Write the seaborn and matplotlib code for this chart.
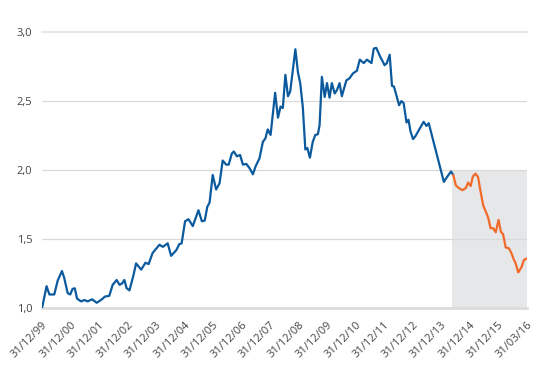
import matplotlib
matplotlib.use("Agg")
import matplotlib.pyplot as plt
import seaborn as sns
import pandas as pd

# x position in tick units (0 = 31/12/99, one unit per label)
hist_x = [0.00, 0.16, 0.26, 0.43, 0.55, 0.70, 0.78, 0.90, 0.99, 1.07, 1.15, 1.23,
          1.37, 1.49, 1.60, 1.76, 1.92, 2.07, 2.21, 2.36, 2.48, 2.62, 2.72, 2.81,
          2.89, 2.97, 3.07, 3.21, 3.30, 3.48, 3.63, 3.74, 3.88, 4.12, 4.24, 4.41,
          4.53, 4.71, 4.82, 4.90, 5.02, 5.14, 5.29, 5.49, 5.61, 5.71, 5.80, 5.88,
          5.99, 6.11, 6.23, 6.34, 6.46, 6.55, 6.66, 6.73, 6.84, 6.95, 7.05, 7.17,
          7.28, 7.40, 7.50, 7.63, 7.75, 7.84, 7.92, 8.02, 8.18, 8.28, 8.37, 8.45,
          8.54, 8.63, 8.71, 8.89, 8.98, 9.06, 9.15, 9.24, 9.31, 9.40, 9.50, 9.59,
          9.68, 9.74, 9.82, 9.92, 10.00, 10.09, 10.17, 10.27, 10.35, 10.44, 10.52,
          10.68, 10.79, 10.91, 11.05, 11.15, 11.29, 11.40, 11.56, 11.64, 11.73,
          11.87, 12.02, 12.10, 12.20, 12.28, 12.35, 12.53, 12.61, 12.69, 12.79,
          12.86, 12.93, 13.02, 13.10, 13.25, 13.39, 13.49, 13.57, 13.72, 13.86,
          13.98, 14.10, 14.21, 14.35, 14.43]
hist_y = [1.00, 1.16, 1.10, 1.10, 1.20, 1.27, 1.22, 1.11, 1.10, 1.14, 1.145, 1.07,
          1.05, 1.06, 1.05, 1.065, 1.04, 1.06, 1.085, 1.09, 1.17, 1.205, 1.17, 1.18,
          1.205, 1.145, 1.13, 1.24, 1.325, 1.28, 1.33, 1.32, 1.40, 1.46, 1.445, 1.47,
          1.38, 1.42, 1.465, 1.47, 1.63, 1.645, 1.595, 1.71, 1.63, 1.635, 1.735, 1.765,
          1.965, 1.86, 1.905, 2.07, 2.04, 2.04, 2.12, 2.135, 2.10, 2.11, 2.04, 2.045,
          2.015, 1.97, 2.03, 2.085, 2.205, 2.23, 2.295, 2.255, 2.56, 2.38, 2.46, 2.45,
          2.69, 2.535, 2.57, 2.875, 2.71, 2.63, 2.46, 2.15, 2.16, 2.09, 2.205, 2.255,
          2.26, 2.325, 2.675, 2.53, 2.63, 2.525, 2.63, 2.555, 2.58, 2.63, 2.535,
          2.65, 2.665, 2.70, 2.72, 2.80, 2.775, 2.80, 2.775, 2.88, 2.885,
          2.82, 2.76, 2.775, 2.835, 2.61, 2.605, 2.47, 2.50, 2.485, 2.345,
          2.365, 2.28, 2.225, 2.245, 2.30, 2.35, 2.32, 2.34, 2.22, 2.11,
          2.01, 1.915, 1.95, 1.99, 1.965]

proj_x = [14.43, 14.52, 14.63, 14.75, 14.87, 14.95, 15.04, 15.12, 15.21, 15.30,
          15.38, 15.48, 15.57, 15.65, 15.74, 15.83, 15.92, 16.02, 16.10, 16.18,
          16.27, 16.38, 16.47, 16.55, 16.62, 16.71, 16.83, 16.91, 17.00]
proj_y = [1.965, 1.89, 1.87, 1.855, 1.87, 1.91, 1.885, 1.955, 1.975, 1.95,
          1.855, 1.745, 1.70, 1.66, 1.58, 1.58, 1.55, 1.64, 1.555, 1.535,
          1.44, 1.435, 1.40, 1.355, 1.325, 1.26, 1.30, 1.35, 1.36]

tick_labels = ["31/12/99", "31/12/00", "31/12/01", "31/12/02", "31/12/03",
               "31/12/04", "31/12/05", "31/12/06", "31/12/07", "31/12/08",
               "31/12/09", "31/12/10", "31/12/11", "31/12/12", "31/12/13",
               "31/12/14", "31/12/15", "31/03/16"]
y_ticks = [1.0, 1.5, 2.0, 2.5, 3.0]
shade_start, shade_top = 14.39, 2.0

BLUE = "#0b5a9e"
ORANGE = "#f26a2a"

sns.set_style("white")
plt.rcParams["font.family"] = ["Open Sans", "DejaVu Sans"]

df = pd.concat([
    pd.DataFrame({"x": hist_x, "y": hist_y, "part": "hist"}),
    pd.DataFrame({"x": proj_x, "y": proj_y, "part": "proj"}),
])

fig = plt.figure(figsize=(5.4, 3.85), dpi=100)
ax = fig.add_axes([42 / 540, 1 - 308.3 / 385, 484.5 / 540, 276.3 / 385])

ax.fill_between([shade_start, len(tick_labels) - 1], 1.0, shade_top,
                color="#e6e7e8", lw=0, zorder=0)
for v in y_ticks[1:-1]:
    ax.axhline(v, color="#d9d9d9", lw=0.9, zorder=1)
ax.axhline(y_ticks[-1], color="#e8e8e8", lw=1.6, zorder=1, clip_on=False)

sns.lineplot(data=df, x="x", y="y", hue="part", palette=[BLUE, ORANGE],
             sort=False, estimator=None, lw=1.6, legend=False, ax=ax, zorder=3)

ax.set_xlim(0, len(tick_labels) - 1)
ax.set_ylim(1.0, 3.0)
ax.set_xticks(range(len(tick_labels)))
ax.set_xticklabels(tick_labels, rotation=45, ha="right", rotation_mode="anchor")
ax.set_yticks(y_ticks)
ax.set_yticklabels([f"{v:.1f}".replace(".", ",") for v in y_ticks])
ax.set_xlabel("")
ax.set_ylabel("")

for s in ["top", "right", "left"]:
    ax.spines[s].set_visible(False)
ax.spines["bottom"].set_color("#dcdcdc")
ax.spines["bottom"].set_linewidth(2)
ax.tick_params(axis="x", length=5, width=1, color="#dcdcdc", pad=3,
               labelsize=8, labelcolor="#444444")
ax.tick_params(axis="y", length=0, pad=7, labelsize=8, labelcolor="#444444")

fig.savefig("out.png", dpi=100)
